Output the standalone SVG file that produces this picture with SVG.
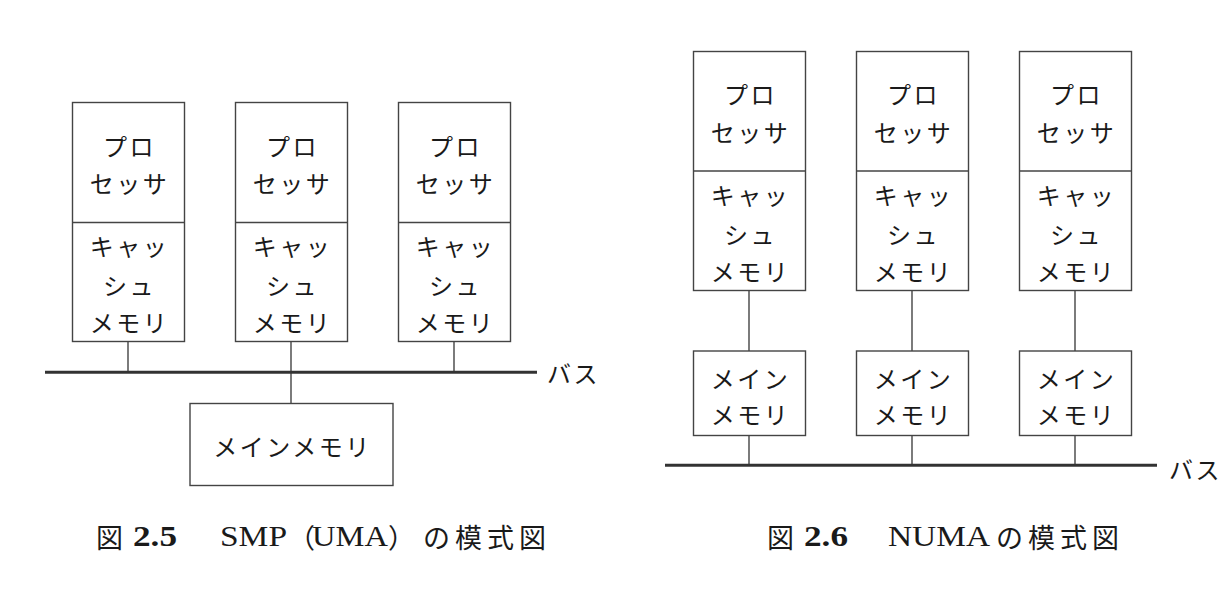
<svg xmlns="http://www.w3.org/2000/svg" width="1232" height="604" viewBox="0 0 1232 604">
<style>
.box{fill:#fff;stroke:#444;stroke-width:1.4}
.div{stroke:#444;stroke-width:1.4}
.conn{stroke:#444;stroke-width:1.4;fill:none}
.bus{stroke:#333;stroke-width:3;fill:none}
.jp{font-family:"Noto Sans CJK JP","Noto Sans",sans-serif;font-size:24px;letter-spacing:2.5px;fill:#1a1a1a;text-anchor:middle;dominant-baseline:central}
.lbl{font-family:"Noto Sans CJK JP","Noto Sans",sans-serif;font-size:24px;letter-spacing:2.5px;fill:#1a1a1a;dominant-baseline:central}
.capj{font-family:"Noto Sans CJK JP",sans-serif;font-size:27px;fill:#1a1a1a;dominant-baseline:central}
.capl{font-family:"Liberation Serif",serif;font-size:29px;fill:#1a1a1a;dominant-baseline:central}
.capb{font-family:"Liberation Serif",serif;font-size:29px;font-weight:bold;fill:#1a1a1a;dominant-baseline:central}
</style>
<rect width="1232" height="604" fill="#fff"/>

<!-- Figure 2.5 -->
<g id="connectors-smp">
<line class="conn" x1="128" y1="341.5" x2="128" y2="372"/>
<line class="conn" x1="291" y1="341.5" x2="291" y2="403.5"/>
<line class="conn" x1="454" y1="341.5" x2="454" y2="372"/>
<line class="bus" x1="45" y1="372.3" x2="537" y2="372.3"/>
</g>
<g id="smp-cpu1">
<rect class="box" x="72.5" y="102.5" width="112" height="239"/>
<line class="div" x1="72.5" y1="222.5" x2="184.5" y2="222.5"/>
<text class="jp" x="129.5" y="145">プロ</text>
<text class="jp" x="129.5" y="182">セッサ</text>
<text class="jp" x="129.5" y="245">キャッ</text>
<text class="jp" x="129.5" y="284">シュ</text>
<text class="jp" x="129.5" y="321">メモリ</text>
</g>
<g id="smp-cpu2">
<rect class="box" x="235.5" y="102.5" width="112" height="239"/>
<line class="div" x1="235.5" y1="222.5" x2="347.5" y2="222.5"/>
<text class="jp" x="292.5" y="145">プロ</text>
<text class="jp" x="292.5" y="182">セッサ</text>
<text class="jp" x="292.5" y="245">キャッ</text>
<text class="jp" x="292.5" y="284">シュ</text>
<text class="jp" x="292.5" y="321">メモリ</text>
</g>
<g id="smp-cpu3">
<rect class="box" x="398.5" y="102.5" width="112" height="239"/>
<line class="div" x1="398.5" y1="222.5" x2="510.5" y2="222.5"/>
<text class="jp" x="455.5" y="145">プロ</text>
<text class="jp" x="455.5" y="182">セッサ</text>
<text class="jp" x="455.5" y="245">キャッ</text>
<text class="jp" x="455.5" y="284">シュ</text>
<text class="jp" x="455.5" y="321">メモリ</text>
</g>
<g id="smp-mainmem">
<rect class="box" x="190" y="403.5" width="203" height="82"/>
<text class="jp" x="292.5" y="445">メインメモリ</text>
</g>
<g id="smp-bus-label">
<text class="lbl" x="547" y="372">バス</text>
</g>
<g id="caption-25">
<text class="capj" x="96" y="536">図</text>
<text class="capb" x="133" y="536" textLength="44" lengthAdjust="spacingAndGlyphs">2.5</text>
<text class="capl" x="220" y="536" textLength="67" lengthAdjust="spacingAndGlyphs">SMP</text>
<text class="capj" x="288" y="536">（</text>
<text class="capl" x="312" y="536" textLength="76" lengthAdjust="spacingAndGlyphs">UMA</text>
<text class="capj" x="388" y="536">）</text>
<text class="capj" x="423" y="536" letter-spacing="5">の模式図</text>
</g>

<!-- Figure 2.6 -->
<g id="connectors-numa">
<line class="conn" x1="749" y1="290.5" x2="749" y2="351"/>
<line class="conn" x1="912" y1="290.5" x2="912" y2="351"/>
<line class="conn" x1="1075" y1="290.5" x2="1075" y2="351"/>
<line class="conn" x1="749" y1="435.5" x2="749" y2="465"/>
<line class="conn" x1="912" y1="435.5" x2="912" y2="465"/>
<line class="conn" x1="1075" y1="435.5" x2="1075" y2="465"/>
<line class="bus" x1="665" y1="465.3" x2="1157" y2="465.3"/>
</g>
<g id="numa-cpu1">
<rect class="box" x="693.5" y="51.5" width="112" height="239"/>
<line class="div" x1="693.5" y1="171" x2="805.5" y2="171"/>
<text class="jp" x="750.5" y="93">プロ</text>
<text class="jp" x="750.5" y="131">セッサ</text>
<text class="jp" x="750.5" y="194">キャッ</text>
<text class="jp" x="750.5" y="233">シュ</text>
<text class="jp" x="750.5" y="270">メモリ</text>
</g>
<g id="numa-cpu2">
<rect class="box" x="856.5" y="51.5" width="112" height="239"/>
<line class="div" x1="856.5" y1="171" x2="968.5" y2="171"/>
<text class="jp" x="913.5" y="93">プロ</text>
<text class="jp" x="913.5" y="131">セッサ</text>
<text class="jp" x="913.5" y="194">キャッ</text>
<text class="jp" x="913.5" y="233">シュ</text>
<text class="jp" x="913.5" y="270">メモリ</text>
</g>
<g id="numa-cpu3">
<rect class="box" x="1019.5" y="51.5" width="112" height="239"/>
<line class="div" x1="1019.5" y1="171" x2="1131.5" y2="171"/>
<text class="jp" x="1076.5" y="93">プロ</text>
<text class="jp" x="1076.5" y="131">セッサ</text>
<text class="jp" x="1076.5" y="194">キャッ</text>
<text class="jp" x="1076.5" y="233">シュ</text>
<text class="jp" x="1076.5" y="270">メモリ</text>
</g>
<g id="numa-mem1">
<rect class="box" x="693.5" y="351" width="112" height="84.5"/>
<text class="jp" x="750.5" y="377">メイン</text>
<text class="jp" x="750.5" y="413">メモリ</text>
</g>
<g id="numa-mem2">
<rect class="box" x="856.5" y="351" width="112" height="84.5"/>
<text class="jp" x="913.5" y="377">メイン</text>
<text class="jp" x="913.5" y="413">メモリ</text>
</g>
<g id="numa-mem3">
<rect class="box" x="1019.5" y="351" width="112" height="84.5"/>
<text class="jp" x="1076.5" y="377">メイン</text>
<text class="jp" x="1076.5" y="413">メモリ</text>
</g>
<g id="numa-bus-label">
<text class="lbl" x="1169" y="468">バス</text>
</g>
<g id="caption-26">
<text class="capj" x="767" y="536">図</text>
<text class="capb" x="804" y="536" textLength="44" lengthAdjust="spacingAndGlyphs">2.6</text>
<text class="capl" x="888" y="536" textLength="102" lengthAdjust="spacingAndGlyphs">NUMA</text>
<text class="capj" x="996" y="536" letter-spacing="5">の模式図</text>
</g>
</svg>
